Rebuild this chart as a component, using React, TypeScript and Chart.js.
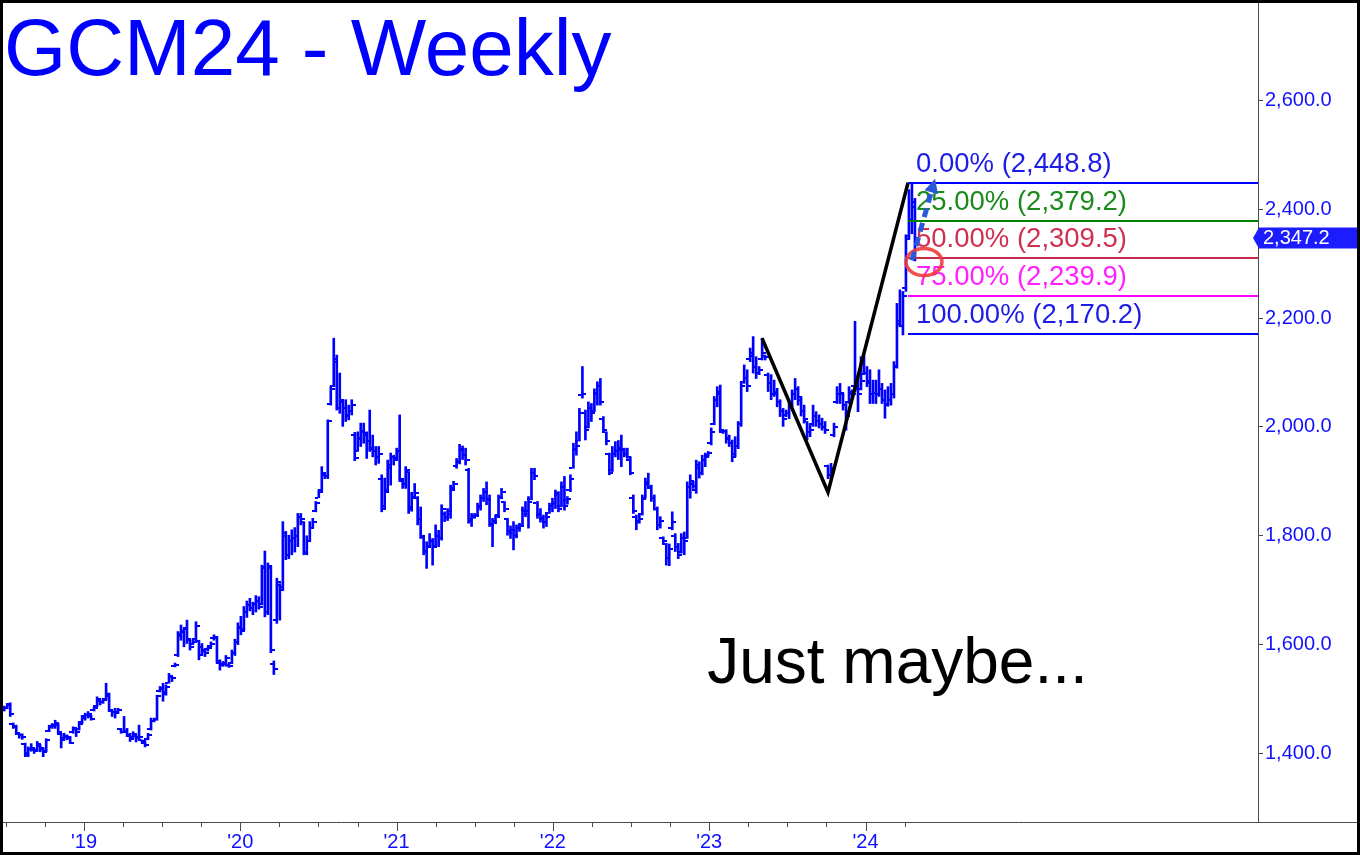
import React, { useEffect, useRef } from "react";
import { Chart, registerables } from "chart.js";

Chart.register(...registerables);

// ---- time base: weekly bars, first bar = week ending 2018-06-29 ----
const FIRST_WEEK_YEAR = 2018.49;
const WEEK_IN_YEARS = 7 / 365.25;

// ---- weekly OHLC ----
const OPEN = [
  1480, 1484, 1490, 1455, 1450, 1436, 1434, 1418, 1400, 1408,
  1406, 1406, 1414, 1408, 1405, 1442, 1450, 1450, 1452, 1435,
  1428, 1430, 1428, 1440, 1444, 1445, 1458, 1468, 1470, 1468,
  1480, 1488, 1496, 1494, 1500, 1505, 1478, 1476, 1476, 1445,
  1440, 1440, 1432, 1430, 1432, 1430, 1424, 1420, 1426, 1445,
  1460, 1462, 1515, 1518, 1512, 1530, 1540, 1560, 1580, 1615,
  1624, 1630, 1608, 1602, 1610, 1606, 1596, 1590, 1592, 1598,
  1612, 1612, 1566, 1564, 1564, 1562, 1566, 1585, 1604, 1632,
  1628, 1660, 1672, 1668, 1674, 1680, 1675, 1740, 1660, 1740,
  1565, 1645, 1710, 1705, 1800, 1765, 1790, 1795, 1800, 1835,
  1825, 1770, 1790, 1815, 1845, 1870, 1885, 1912, 1910, 2042,
  2075, 2125, 2035, 2045, 2035, 2022, 2030, 1985, 1955, 1978,
  1992, 1988, 1975, 1962, 1955, 1945, 1905, 1855, 1885, 1925,
  1945, 1942, 1955, 1900, 1895, 1918, 1852, 1872, 1870, 1830,
  1798, 1772, 1782, 1790, 1782, 1800, 1795, 1840, 1835, 1840,
  1888, 1928, 1936, 1958, 1948, 1920, 1828, 1836, 1838, 1852,
  1870, 1880, 1868, 1822, 1828, 1838, 1872, 1862, 1830, 1808,
  1810, 1802, 1815, 1820, 1848, 1840, 1868, 1915, 1860, 1838,
  1830, 1825, 1842, 1850, 1858, 1875, 1855, 1890, 1865, 1885,
  1925, 1958, 1975, 2058, 2025, 2000, 2035, 2030, 2062, 2075,
  2015, 1990, 1950, 1920, 1950, 1955, 1958, 1958, 1950, 1940,
  1870, 1835, 1828, 1840, 1870, 1898, 1888, 1870, 1850, 1820,
  1795, 1785, 1760, 1815, 1800, 1780, 1770, 1795, 1795, 1890,
  1895, 1885, 1925, 1915, 1940, 1948, 1970, 2005, 2050, 2065,
  1990, 1992, 1980, 1970, 1950, 1965, 2005, 2082, 2090, 2125,
  2130, 2110, 2100, 2125, 2130, 2095, 2080, 2060, 2060, 2045,
  2030, 2022, 2025, 2040, 2060, 2070, 2050, 2030, 2010, 1990,
  2005, 2020, 2010, 2005, 2000, 1928, 1912, 1985, 2045, 2060,
  2060, 2040, 2045, 2060, 2075, 2070, 2070, 2098, 2100, 2085,
  2060, 2062, 2060, 2070, 2050, 2042, 2050, 2060, 2112, 2195,
  2185, 2255, 2350, 2380, 2405,
];
const HIGH = [
  1487, 1492, 1493, 1456, 1452, 1437, 1436, 1419, 1412, 1418,
  1409, 1422, 1416, 1410, 1427, 1452, 1455, 1461, 1455, 1437,
  1437, 1434, 1431, 1449, 1446, 1458, 1470, 1474, 1477, 1470,
  1486, 1504, 1498, 1501, 1529, 1511, 1480, 1483, 1483, 1446,
  1468, 1446, 1437, 1440, 1434, 1452, 1425, 1422, 1437, 1465,
  1465, 1507, 1523, 1529, 1526, 1547, 1541, 1566, 1624, 1636,
  1630, 1645, 1611, 1608, 1642, 1608, 1602, 1593, 1596, 1605,
  1618, 1615, 1572, 1569, 1580, 1565, 1590, 1610, 1640, 1652,
  1670, 1680, 1685, 1678, 1690, 1688, 1746, 1772, 1750, 1745,
  1570, 1722, 1712, 1826, 1808, 1801, 1811, 1815, 1841, 1841,
  1826, 1800, 1826, 1832, 1863, 1884, 1927, 1915, 2013, 2074,
  2163, 2132, 2099, 2050, 2050, 2040, 2050, 1990, 1991, 2007,
  2007, 1991, 2031, 1985, 1964, 1964, 1912, 1906, 1939, 1952,
  1948, 1961, 2022, 1903, 1927, 1918, 1880, 1896, 1872, 1853,
  1801, 1789, 1804, 1795, 1820, 1810, 1857, 1844, 1850, 1893,
  1900, 1942, 1968, 1965, 1961, 1924, 1841, 1841, 1860, 1875,
  1887, 1899, 1875, 1832, 1838, 1875, 1887, 1863, 1832, 1818,
  1826, 1820, 1823, 1853, 1863, 1872, 1924, 1924, 1863, 1850,
  1838, 1841, 1860, 1869, 1884, 1881, 1899, 1909, 1872, 1912,
  1970, 1991, 2034, 2111, 2031, 2046, 2043, 2070, 2083, 2089,
  2019, 1991, 1952, 1964, 1973, 1975, 1985, 1961, 1961, 1945,
  1875, 1838, 1838, 1875, 1906, 1915, 1893, 1875, 1853, 1835,
  1798, 1786, 1785, 1844, 1804, 1786, 1804, 1807, 1899, 1912,
  1900, 1939, 1936, 1948, 1952, 1955, 1998, 2056, 2074, 2077,
  1994, 1995, 1985, 1976, 1982, 2010, 2083, 2114, 2105, 2145,
  2166, 2129, 2111, 2163, 2132, 2099, 2096, 2086, 2071, 2050,
  2034, 2031, 2045, 2068, 2089, 2074, 2055, 2040, 2010, 2004,
  2040, 2028, 2022, 2016, 2010, 1930, 1933, 2007, 2074, 2080,
  2062, 2043, 2074, 2068, 2194, 2092, 2129, 2132, 2111, 2105,
  2086, 2086, 2105, 2080, 2068, 2074, 2080, 2120, 2227, 2252,
  2249, 2353, 2436, 2449, 2420,
];
const LOW = [
  1478, 1482, 1468, 1446, 1435, 1428, 1426, 1394, 1394, 1404,
  1400, 1404, 1403, 1394, 1403, 1440, 1446, 1446, 1437, 1410,
  1425, 1425, 1418, 1437, 1431, 1443, 1455, 1461, 1465, 1461,
  1478, 1486, 1489, 1492, 1498, 1477, 1468, 1465, 1474, 1437,
  1438, 1431, 1422, 1428, 1421, 1425, 1419, 1412, 1425, 1443,
  1458, 1461, 1513, 1496, 1507, 1529, 1532, 1559, 1578, 1608,
  1596, 1602, 1590, 1600, 1608, 1572, 1580, 1578, 1588, 1596,
  1608, 1566, 1553, 1560, 1560, 1558, 1565, 1580, 1600, 1618,
  1626, 1650, 1662, 1655, 1660, 1665, 1673, 1651, 1655, 1585,
  1545, 1639, 1645, 1700, 1756, 1758, 1765, 1770, 1780, 1820,
  1765, 1765, 1789, 1815, 1844, 1870, 1881, 1905, 1905, 2040,
  2074, 2031, 2025, 2001, 2010, 2013, 2022, 1938, 1955, 1964,
  1970, 1942, 1955, 1945, 1930, 1933, 1844, 1850, 1880, 1893,
  1930, 1940, 1900, 1887, 1887, 1841, 1845, 1868, 1820, 1795,
  1765, 1740, 1780, 1746, 1780, 1780, 1792, 1826, 1828, 1832,
  1885, 1924, 1932, 1940, 1930, 1823, 1817, 1832, 1835, 1847,
  1863, 1857, 1817, 1780, 1822, 1836, 1868, 1844, 1801, 1795,
  1774, 1796, 1808, 1817, 1835, 1814, 1866, 1903, 1832, 1825,
  1814, 1817, 1841, 1844, 1850, 1844, 1853, 1847, 1858, 1881,
  1924, 1948, 1974, 2053, 1976, 1998, 2010, 2028, 2040, 2040,
  1991, 1967, 1912, 1918, 1945, 1940, 1927, 1945, 1942, 1912,
  1841, 1811, 1823, 1838, 1869, 1887, 1863, 1847, 1811, 1814,
  1786, 1746, 1745, 1811, 1771, 1758, 1768, 1765, 1795, 1869,
  1887, 1878, 1906, 1912, 1927, 1946, 1967, 2004, 2037, 1991,
  1988, 1970, 1964, 1936, 1945, 1960, 2001, 2080, 2065, 2120,
  2099, 2089, 2096, 2123, 2123, 2065, 2050, 2056, 2037, 2019,
  2001, 2019, 2015, 2037, 2050, 2040, 2020, 2007, 1976, 1982,
  2001, 2001, 1998, 1994, 1988, 1905, 1905, 1982, 2043, 2043,
  2031, 1994, 2043, 2050, 2065, 2028, 2068, 2096, 2074, 2043,
  2043, 2043, 2056, 2043, 2016, 2038, 2040, 2053, 2108, 2184,
  2169, 2249, 2345, 2355, 2305,
];
const CLOSE = [
  1483, 1489, 1472, 1448, 1438, 1433, 1430, 1398, 1408, 1410,
  1404, 1418, 1410, 1402, 1424, 1448, 1452, 1456, 1440, 1425,
  1432, 1430, 1420, 1446, 1440, 1455, 1466, 1470, 1472, 1464,
  1484, 1500, 1494, 1498, 1510, 1480, 1476, 1474, 1480, 1440,
  1442, 1434, 1426, 1435, 1428, 1430, 1422, 1416, 1434, 1460,
  1463, 1505, 1520, 1510, 1522, 1542, 1538, 1563, 1620, 1625,
  1628, 1610, 1596, 1604, 1634, 1580, 1588, 1584, 1594, 1602,
  1614, 1570, 1562, 1566, 1576, 1561, 1585, 1605, 1630, 1625,
  1660, 1672, 1668, 1674, 1680, 1670, 1743, 1660, 1745, 1590,
  1555, 1715, 1700, 1805, 1765, 1790, 1795, 1800, 1835, 1830,
  1768, 1790, 1815, 1825, 1860, 1880, 1915, 1910, 2010, 2070,
  2120, 2035, 2050, 2035, 2020, 2030, 2040, 1942, 1980, 1990,
  1985, 1975, 1960, 1955, 1945, 1950, 1850, 1880, 1930, 1945,
  1940, 1955, 1905, 1895, 1920, 1850, 1870, 1878, 1830, 1800,
  1770, 1780, 1790, 1780, 1800, 1795, 1850, 1835, 1845, 1885,
  1895, 1935, 1960, 1948, 1940, 1830, 1835, 1838, 1855, 1870,
  1880, 1865, 1820, 1825, 1835, 1870, 1880, 1850, 1805, 1810,
  1800, 1815, 1818, 1845, 1845, 1862, 1915, 1910, 1840, 1832,
  1825, 1835, 1855, 1860, 1878, 1850, 1890, 1855, 1868, 1905,
  1960, 1965, 2025, 2060, 1995, 2035, 2025, 2060, 2075, 2045,
  1995, 1975, 1915, 1950, 1955, 1962, 1960, 1950, 1945, 1915,
  1845, 1825, 1830, 1868, 1895, 1890, 1870, 1850, 1820, 1828,
  1790, 1760, 1775, 1825, 1780, 1765, 1795, 1790, 1890, 1900,
  1892, 1930, 1915, 1940, 1945, 1952, 1990, 2050, 2060, 1995,
  1992, 1978, 1970, 1945, 1965, 2005, 2075, 2090, 2075, 2135,
  2110, 2100, 2105, 2135, 2128, 2080, 2060, 2065, 2045, 2030,
  2015, 2025, 2040, 2060, 2070, 2055, 2030, 2015, 1990, 1995,
  2020, 2010, 2005, 2000, 1995, 1912, 1925, 2000, 2060, 2062,
  2040, 2020, 2065, 2060, 2070, 2060, 2085, 2100, 2080, 2060,
  2062, 2060, 2070, 2050, 2040, 2050, 2060, 2110, 2190, 2185,
  2240, 2345, 2380, 2413, 2347,
];

// ---- axes ----
const X_MIN = 2018.482;
const X_MAX = 2026.511;
const Y_MIN = 1274;
const Y_MAX = 2779;
const Y_TICKS = [1400, 1600, 1800, 2000, 2200, 2400, 2600];
const X_TICK_YEARS = [2019, 2020, 2021, 2022, 2023, 2024];
const X_TICK_LABELS = ["'19", "'20", "'21", "'22", "'23", "'24"];
const QUARTER_TICKS = [
  2018.5, 2018.75, 2019, 2019.25, 2019.5, 2019.75, 2020, 2020.25, 2020.5, 2020.75,
  2021, 2021.25, 2021.5, 2021.75, 2022, 2022.25, 2022.5, 2022.75, 2023, 2023.25,
  2023.5, 2023.75, 2024, 2024.25,
];

// ---- annotations ----
const TITLE = "GCM24 - Weekly";
const NOTE = "Just maybe...";
const NOTE_POS = [2023.0, 1529];
const LAST_PRICE = 2347.2;
const ABC_X = [2023.338, 2023.76, 2024.272];
const ABC_Y = [2163, 1880, 2448.8];
const FIB_START_X = 2024.272;
const FIB_PCTS = [0, 25, 50, 75, 100];
const FIB_VALUES = [2448.8, 2379.2, 2309.5, 2239.9, 2170.2];
const FIB_LINE_COLORS = ["#0000ff", "#008000", "#c8284a", "#ff00ff", "#0000ff"];
const FIB_TEXT_COLORS = ["#1c1ce6", "#1a8a1a", "#d03050", "#ff20ff", "#1c1ce6"];
const ARROW_FROM = [2024.297, 2306];
const ARROW_TO = [2024.445, 2456];
const CIRCLE_AT = [2024.374, 2303];

const FONT = '"Liberation Sans", Arial, Helvetica, sans-serif';
const BAR_COLOR = "#0000ff";
const AXIS_TEXT = "#1010ff";
const AXIS_LINE = "#4a4a4a";

const fmt = (v: number, d = 1) =>
  v.toLocaleString("en-US", { minimumFractionDigits: d, maximumFractionDigits: d });

const XS = CLOSE.map((_, i) => FIRST_WEEK_YEAR + i * WEEK_IN_YEARS);

const overlay = {
  id: "overlay",
  beforeDatasetsDraw(chart: any) {
    const { ctx, chartArea, scales } = chart;
    const x = scales.x;
    const y = scales.y;
    ctx.save();
    ctx.beginPath();
    ctx.rect(chartArea.left, chartArea.top, chartArea.width, chartArea.height);
    ctx.clip();
    ctx.fillStyle = BAR_COLOR;
    for (let i = 0; i < CLOSE.length; i++) {
      const px = Math.round(x.getPixelForValue(XS[i]));
      const yo = Math.round(y.getPixelForValue(OPEN[i]));
      const yc = Math.round(y.getPixelForValue(CLOSE[i]));
      ctx.fillRect(px - 4, yo - 1, 3, 2);
      ctx.fillRect(px + 1, yc - 1, 3, 2);
    }
    ctx.restore();
  },
  afterDraw(chart: any) {
    const { ctx, chartArea, scales, width } = chart;
    const x = scales.x;
    const y = scales.y;
    ctx.save();

    // x axis line across the whole width
    ctx.strokeStyle = AXIS_LINE;
    ctx.lineWidth = 1;
    ctx.beginPath();
    ctx.moveTo(0, chartArea.bottom + 0.5);
    ctx.lineTo(width, chartArea.bottom + 0.5);
    ctx.stroke();
    // quarterly tick marks
    for (const q of QUARTER_TICKS) {
      const px = Math.round(x.getPixelForValue(q)) + 0.5;
      const len = Number.isInteger(q) ? 9 : 5;
      ctx.beginPath();
      ctx.moveTo(px, chartArea.bottom);
      ctx.lineTo(px, chartArea.bottom + len);
      ctx.stroke();
    }

    // fibonacci levels
    const fx = x.getPixelForValue(FIB_START_X);
    ctx.font = `27.5px ${FONT}`;
    ctx.textBaseline = "alphabetic";
    ctx.textAlign = "left";
    FIB_VALUES.forEach((v, i) => {
      const py = Math.round(y.getPixelForValue(v));
      ctx.strokeStyle = FIB_LINE_COLORS[i];
      ctx.lineWidth = 2;
      ctx.beginPath();
      ctx.moveTo(fx, py);
      ctx.lineTo(chartArea.right, py);
      ctx.stroke();
      ctx.fillStyle = FIB_TEXT_COLORS[i];
      ctx.fillText(`${FIB_PCTS[i].toFixed(2)}% (${fmt(v)})`, fx + 8, py - 11);
    });

    // red circle
    const cx = x.getPixelForValue(CIRCLE_AT[0]);
    const cy = y.getPixelForValue(CIRCLE_AT[1]);
    ctx.strokeStyle = "rgba(240,60,60,0.9)";
    ctx.lineWidth = 3.5;
    ctx.beginPath();
    ctx.ellipse(cx, cy, 18, 13.5, 0, 0, Math.PI * 2);
    ctx.stroke();

    // dashed blue arrow
    const ax0 = x.getPixelForValue(ARROW_FROM[0]);
    const ay0 = y.getPixelForValue(ARROW_FROM[1]);
    const ax1 = x.getPixelForValue(ARROW_TO[0]);
    const ay1 = y.getPixelForValue(ARROW_TO[1]);
    const ang = Math.atan2(ay1 - ay0, ax1 - ax0);
    const headLen = 14;
    const bx = ax1 - Math.cos(ang) * headLen;
    const by = ay1 - Math.sin(ang) * headLen;
    ctx.strokeStyle = "#2a58d8";
    ctx.fillStyle = "#2a58d8";
    ctx.lineWidth = 5;
    ctx.setLineDash([9, 6]);
    ctx.beginPath();
    ctx.moveTo(ax0, ay0);
    ctx.lineTo(bx, by);
    ctx.stroke();
    ctx.setLineDash([]);
    ctx.beginPath();
    ctx.moveTo(ax1, ay1);
    ctx.lineTo(bx + Math.cos(ang + Math.PI / 2) * 7, by + Math.sin(ang + Math.PI / 2) * 7);
    ctx.lineTo(bx + Math.cos(ang - Math.PI / 2) * 7, by + Math.sin(ang - Math.PI / 2) * 7);
    ctx.closePath();
    ctx.fill();

    // last price tag
    const ty = y.getPixelForValue(LAST_PRICE);
    const tl = chartArea.right;
    ctx.fillStyle = "#1c1cff";
    ctx.beginPath();
    ctx.moveTo(tl - 5, ty);
    ctx.lineTo(tl + 1, ty - 10.5);
    ctx.lineTo(width, ty - 10.5);
    ctx.lineTo(width, ty + 10.5);
    ctx.lineTo(tl + 1, ty + 10.5);
    ctx.closePath();
    ctx.fill();
    ctx.fillStyle = "#ffffff";
    ctx.font = `20px ${FONT}`;
    ctx.textBaseline = "middle";
    ctx.fillText(fmt(LAST_PRICE), tl + 5, ty + 1);

    // title
    ctx.fillStyle = "#0000ff";
    ctx.textBaseline = "alphabetic";
    ctx.font = `80px ${FONT}`;
    ctx.fillText(TITLE, 1, 72);

    // note
    ctx.fillStyle = "#000000";
    ctx.font = `64px ${FONT}`;
    ctx.fillText(NOTE, x.getPixelForValue(NOTE_POS[0]) - 2, y.getPixelForValue(NOTE_POS[1]));

    ctx.restore();
  },
};

export default function App() {
  const ref = useRef<HTMLCanvasElement>(null);

  useEffect(() => {
    document.body.style.margin = "0";
    document.body.style.overflow = "hidden";
    const canvas = ref.current;
    if (!canvas) return;

    const chart = new Chart(canvas, {
      type: "bar",
      data: {
        datasets: [
          {
            type: "line",
            label: "pattern",
            data: ABC_X.map((v, i) => ({ x: v, y: ABC_Y[i] })),
            borderColor: "#000000",
            borderWidth: 3.5,
            pointRadius: 0,
            tension: 0,
            order: 0,
          } as any,
          {
            type: "bar",
            label: "GCM24",
            data: XS.map((v, i) => ({ x: v, y: [LOW[i], HIGH[i]] })),
            backgroundColor: BAR_COLOR,
            borderWidth: 0,
            barThickness: 2,
            order: 1,
          } as any,
        ],
      },
      options: {
        animation: false,
        responsive: false,
        maintainAspectRatio: false,
        devicePixelRatio: 1,
        events: [],
        layout: { padding: 0 },
        plugins: { legend: { display: false }, tooltip: { enabled: false } },
        scales: {
          x: {
            type: "linear",
            min: X_MIN,
            max: X_MAX,
            offset: false,
            grid: { display: false, drawTicks: false },
            border: { display: false },
            afterBuildTicks: (s: any) => {
              s.ticks = X_TICK_YEARS.map((v) => ({ value: v }));
            },
            afterFit: (s: any) => {
              s.height = 30;
              s.paddingLeft = 0;
              s.paddingRight = 0;
            },
            ticks: {
              autoSkip: false,
              maxRotation: 0,
              padding: 8,
              color: AXIS_TEXT,
              font: { family: FONT, size: 20 },
              callback: (v: any) => {
                const k = X_TICK_YEARS.indexOf(Number(v));
                return k >= 0 ? X_TICK_LABELS[k] : "";
              },
            },
          },
          y: {
            type: "linear",
            position: "right",
            min: Y_MIN,
            max: Y_MAX,
            grid: { drawOnChartArea: false, drawTicks: true, tickLength: 5, color: AXIS_LINE },
            border: { display: true, color: AXIS_LINE, width: 1 },
            afterBuildTicks: (s: any) => {
              s.ticks = Y_TICKS.map((v) => ({ value: v }));
            },
            afterFit: (s: any) => {
              s.width = 99;
              s.paddingTop = 0;
              s.paddingBottom = 0;
            },
            ticks: {
              padding: 2,
              color: AXIS_TEXT,
              font: { family: FONT, size: 20 },
              callback: (v: any) => fmt(Number(v)),
            },
          },
        },
      } as any,
      plugins: [overlay],
    });

    return () => chart.destroy();
  }, []);

  return (
    <div
      style={{
        width: 1360,
        height: 855,
        boxSizing: "border-box",
        border: "3px solid #000",
        background: "#fff",
        overflow: "hidden",
      }}
    >
      <canvas ref={ref} width={1354} height={849} style={{ display: "block", width: 1354, height: 849 }} />
    </div>
  );
}
